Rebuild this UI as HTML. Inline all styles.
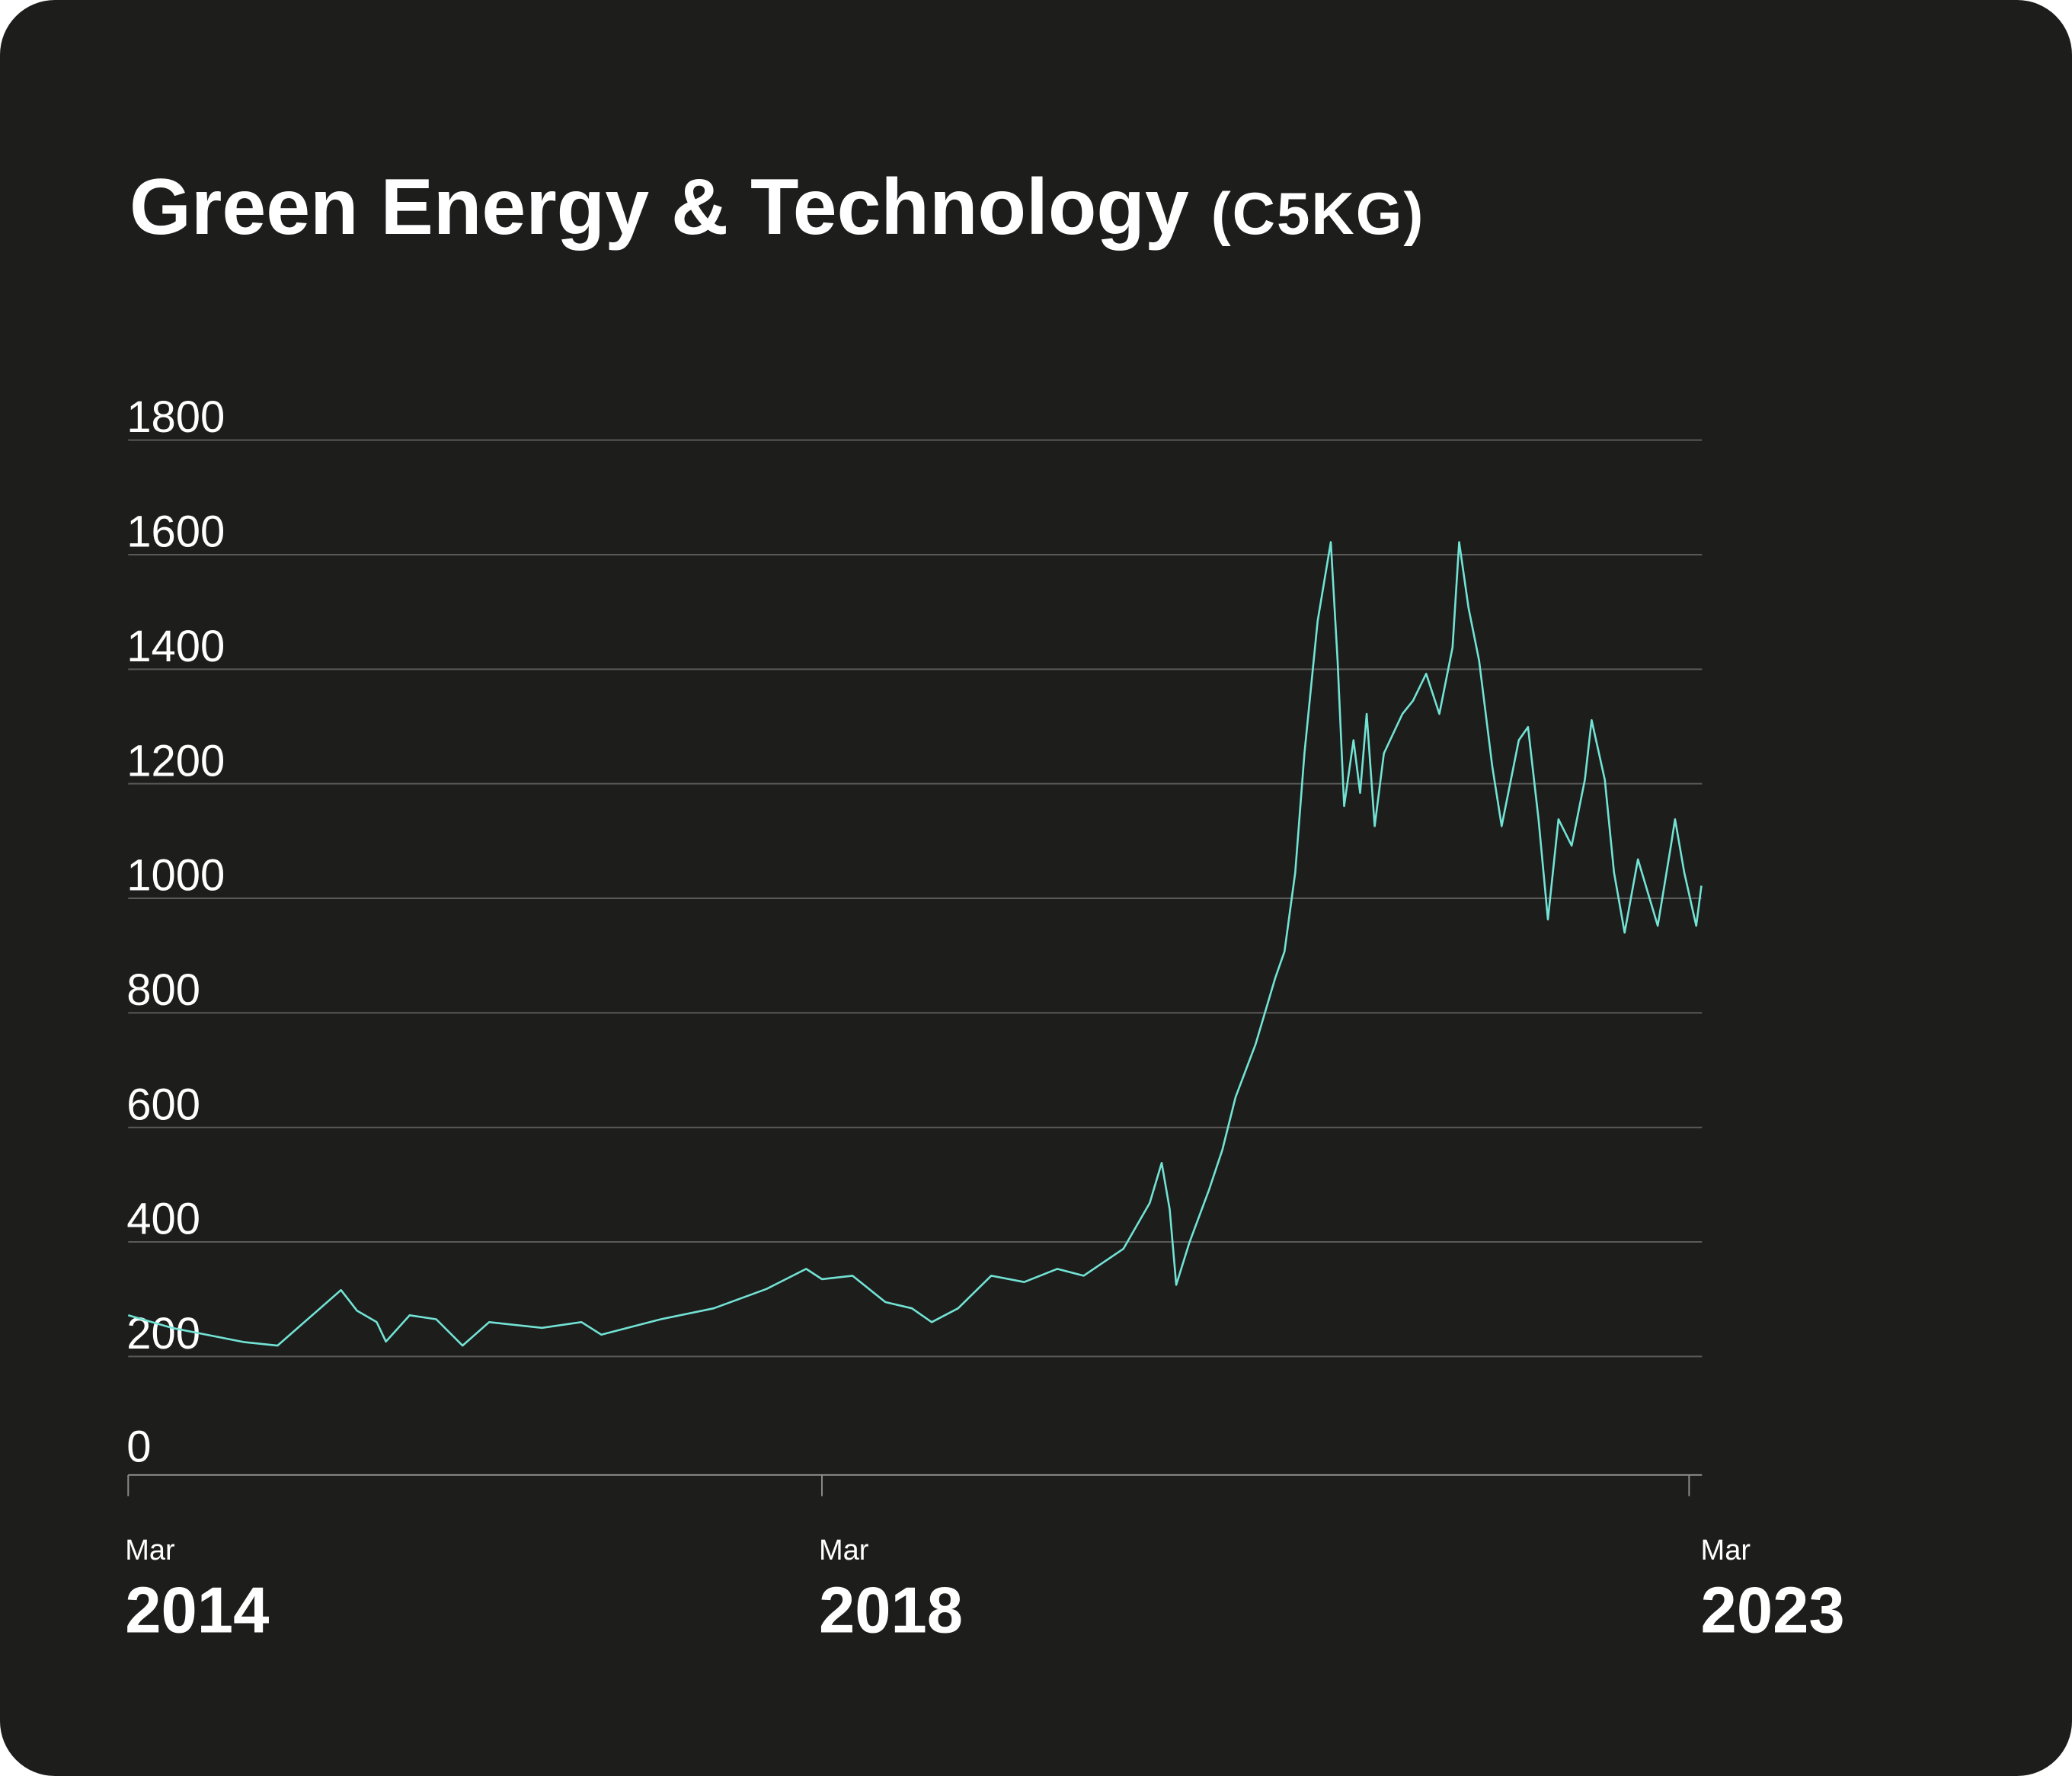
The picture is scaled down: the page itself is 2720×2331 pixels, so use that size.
<!DOCTYPE html>
<html><head><meta charset="utf-8">
<style>
html,body{margin:0;padding:0;background:#fff;}
#card{position:absolute;left:0;top:0;width:2720px;height:2331px;background:#1d1d1c;border-radius:72px;overflow:hidden;}
svg{position:absolute;left:0;top:0;}
text{font-family:"Liberation Sans",sans-serif;fill:#fff;}
</style></head>
<body>
<div id="card">
<svg id="chart" width="2720" height="2331" viewBox="0 0 2720 2331">
<text x="170" y="307" font-size="104" font-weight="bold">Green Energy &amp; Technology <tspan font-size="78" letter-spacing="2">(C5KG)</tspan></text>
<g id="grid"></g><g id="axis"></g><path id="line" fill="none" stroke="#72e3d4" stroke-width="2.6" stroke-linejoin="round"/>
</svg>
</div>
<script>
const yTicks=[0,200,400,600,800,1000,1200,1400,1600,1800];
const xTickYears=[2014.167,2018.167,2023.167];
const xTickMonths=["Mar","Mar","Mar"];
const xTickLabels=["2014","2018","2023"];
const dates=[2014.167,2014.418,2014.838,2015.028,2015.394,2015.486,2015.600,2015.653,2015.790,2015.943,2016.095,2016.248,2016.553,2016.781,2016.895,2017.238,2017.543,2017.848,2018.076,2018.167,2018.343,2018.533,2018.686,2018.800,2018.952,2019.143,2019.333,2019.524,2019.676,2019.905,2020.057,2020.126,2020.172,2020.210,2020.286,2020.400,2020.476,2020.552,2020.667,2020.781,2020.834,2020.896,2020.949,2021.025,2021.101,2021.140,2021.178,2021.232,2021.270,2021.308,2021.354,2021.407,2021.514,2021.575,2021.651,2021.727,2021.803,2021.841,2021.895,2021.956,2022.032,2022.086,2022.185,2022.238,2022.299,2022.353,2022.414,2022.490,2022.566,2022.605,2022.681,2022.734,2022.795,2022.872,2022.986,2023.062,2023.086,2023.139,2023.208,2023.238];
const values=[272,250,225,219,316,280,260,226,272,265,219,260,250,260,238,265,284,318,353,335,341,295,284,260,284,341,330,353,341,388,468,538,457,325,399,492,561,653,745,861,907,1045,1253,1484,1622,1415,1161,1276,1184,1322,1126,1253,1322,1345,1392,1322,1438,1622,1507,1415,1230,1126,1276,1299,1138,963,1138,1092,1207,1311,1207,1045,940,1068,952,1092,1138,1045,952,1022];
const S=2720/1568;
const X0=97*S,PX=131.25*S,Y0=1113*S,PY=(1113-333)/1800*S;
function xs(t){return X0+(t-2014.167)*PX;}
function ys(v){return Y0-v*PY;}
const NS="http://www.w3.org/2000/svg";
const grid=document.getElementById('grid'),axis=document.getElementById('axis');
yTicks.forEach(v=>{
  if(v>0){const l=document.createElementNS(NS,'line');
  
  
  l.setAttribute('x1',X0);l.setAttribute('x2',1288*S);l.setAttribute('y1',ys(v));l.setAttribute('y2',ys(v));
  l.setAttribute('stroke','#5a5a58');l.setAttribute('stroke-width','2');grid.appendChild(l);}
  const t=document.createElementNS(NS,'text');
  
  
  t.setAttribute('x',X0-2);t.setAttribute('y',ys(v)-(v===0?7*S:6*S));t.setAttribute('font-size','58');
  t.textContent=v;grid.appendChild(t);
});
const ax=document.createElementNS(NS,'line');


ax.setAttribute('x1',X0);ax.setAttribute('x2',1288*S);ax.setAttribute('y1',1116*S);ax.setAttribute('y2',1116*S);
ax.setAttribute('stroke','#8a8a88');ax.setAttribute('stroke-width','2');axis.appendChild(ax);
xTickYears.forEach((yr,i)=>{
  const x=xs(yr);
  const tk=document.createElementNS(NS,'line');
  
  
  tk.setAttribute('x1',x);tk.setAttribute('x2',x);tk.setAttribute('y1',1116*S);tk.setAttribute('y2',1132*S);
  tk.setAttribute('stroke','#8a8a88');tk.setAttribute('stroke-width','2');axis.appendChild(tk);
  const lx=i===2?1287*S:x-4;
  const m=document.createElementNS(NS,'text');
  
  
  m.setAttribute('x',lx);m.setAttribute('y',1180*S);m.setAttribute('font-size','38');
  m.textContent=xTickMonths[i];axis.appendChild(m);
  const y=document.createElementNS(NS,'text');
  
  
  y.setAttribute('x',lx);y.setAttribute('y',1235*S);y.setAttribute('font-size','85');y.setAttribute('font-weight','bold');
  y.textContent=xTickLabels[i];axis.appendChild(y);
});
document.getElementById('line').setAttribute('d',dates.map((d,i)=>(i?'L':'M')+xs(d).toFixed(1)+' '+ys(values[i]).toFixed(1)).join(' '));
</script>
</body></html>
